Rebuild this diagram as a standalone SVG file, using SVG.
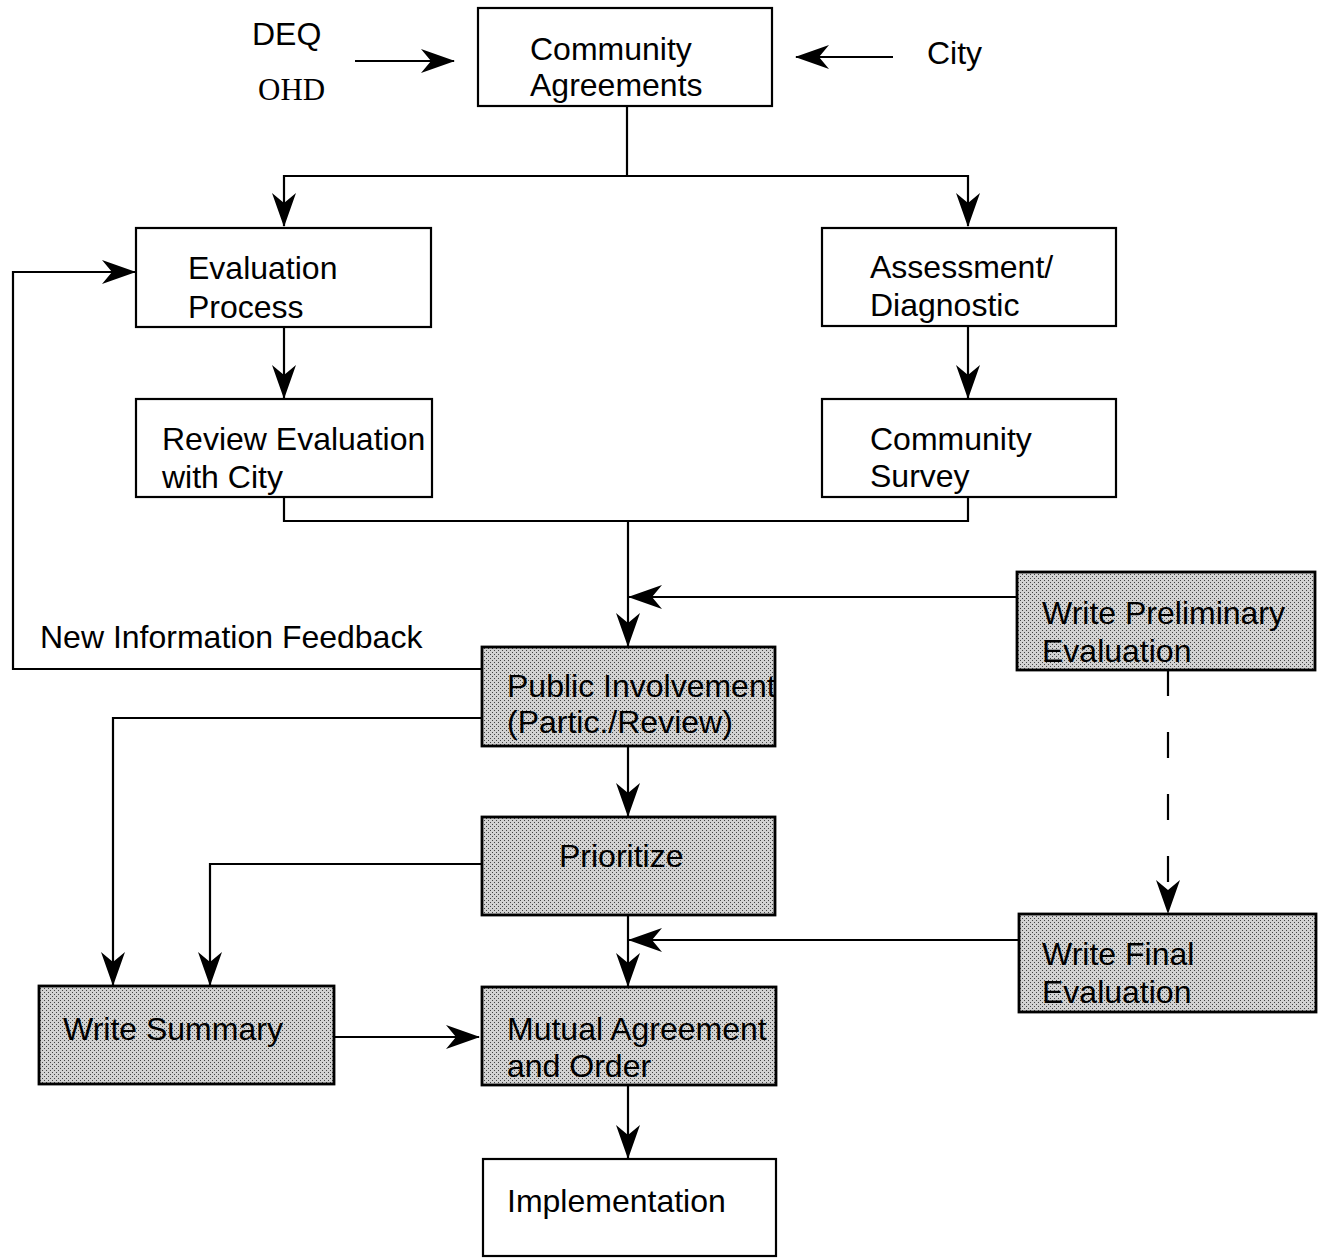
<svg xmlns="http://www.w3.org/2000/svg" width="1321" height="1258" viewBox="0 0 1321 1258">
<defs>
<marker id="ah" markerUnits="userSpaceOnUse" viewBox="0 0 34 24" refX="33" refY="12" markerWidth="34" markerHeight="24" orient="auto">
<path d="M0,0 L34,12 L0,24 L10,12 Z" fill="#000"/>
</marker>
<pattern id="dots" width="4" height="4" patternUnits="userSpaceOnUse">
<rect width="4" height="4" fill="#d2d2d2"/>
<rect x="0" y="0" width="1" height="1" fill="#444"/>
<rect x="2" y="2" width="1" height="1" fill="#444"/>
</pattern>
<clipPath id="cpPI"><rect x="482" y="647" width="293" height="99"/></clipPath>
<clipPath id="cpMA"><rect x="482" y="987" width="294" height="98"/></clipPath>
</defs>
<style>
.box{fill:#fff;stroke:#000;stroke-width:2.2}
.gbox{fill:url(#dots);stroke:#000;stroke-width:2.8}
.t{font-family:"Liberation Sans",Arial,sans-serif;font-size:32px;fill:#000}
.s{font-family:"Liberation Serif","Times New Roman",serif;font-size:31px;fill:#000}
.c{fill:none;stroke:#000;stroke-width:2.2}
.a{marker-end:url(#ah)}
</style>
<rect width="1321" height="1258" fill="#fff"/>

<g id="connectors">
<line class="c a" x1="355" y1="61" x2="454" y2="61" stroke-width="3"/>
<line class="c a" x1="893" y1="57" x2="796" y2="57" stroke-width="3"/>
<polyline class="c" points="627,106 627,176"/>
<polyline class="c a" points="627,176 284,176 284,226"/>
<polyline class="c a" points="627,176 968,176 968,226"/>
<line class="c a" x1="284" y1="327" x2="284" y2="398"/>
<line class="c a" x1="968" y1="326" x2="968" y2="398"/>
<polyline class="c" points="284,497 284,521 968,521 968,497"/>
<line class="c a" x1="628" y1="521" x2="628" y2="646"/>
<line class="c a" x1="1017" y1="597" x2="629" y2="597"/>
<polyline class="c a" points="482,669 13,669 13,272 135,272"/>
<polyline class="c a" points="482,718 113,718 113,985"/>
<line class="c a" x1="628" y1="746" x2="628" y2="816"/>
<polyline class="c a" points="482,864 210,864 210,985"/>
<line class="c a" x1="628" y1="915" x2="628" y2="986"/>
<line class="c a" x1="1019" y1="940" x2="629" y2="940"/>
<line class="c a" x1="1168" y1="670" x2="1168" y2="913" stroke-dasharray="26,36"/>
<line class="c a" x1="334" y1="1037" x2="479" y2="1037" stroke-width="3"/>
<line class="c a" x1="628" y1="1085" x2="628" y2="1158"/>
</g>

<g id="labels">
<text class="t" x="252" y="45">DEQ</text>
<text class="s" x="258" y="100">OHD</text>
<text class="t" x="927" y="64">City</text>
<text class="t" x="40" y="648">New Information Feedback</text>
</g>

<g id="n-community-agreements">
<rect class="box" x="478" y="8" width="294" height="98"/>
<text class="t" x="530" y="60">Community</text>
<text class="t" x="530" y="96">Agreements</text>
</g>

<g id="n-evaluation-process">
<rect class="box" x="136" y="228" width="295" height="99"/>
<text class="t" x="188" y="279">Evaluation</text>
<text class="t" x="188" y="318">Process</text>
</g>

<g id="n-assessment">
<rect class="box" x="822" y="228" width="294" height="98"/>
<text class="t" x="870" y="278">Assessment/</text>
<text class="t" x="870" y="316">Diagnostic</text>
</g>

<g id="n-review-evaluation">
<rect class="box" x="136" y="399" width="296" height="98"/>
<text class="t" x="162" y="450">Review Evaluation</text>
<text class="t" x="162" y="488">with City</text>
</g>

<g id="n-community-survey">
<rect class="box" x="822" y="399" width="294" height="98"/>
<text class="t" x="870" y="450">Community</text>
<text class="t" x="870" y="487">Survey</text>
</g>

<g id="n-write-preliminary">
<rect class="gbox" x="1017" y="572" width="298" height="98"/>
<text class="t" x="1042" y="624">Write Preliminary</text>
<text class="t" x="1042" y="662">Evaluation</text>
</g>

<g id="n-public-involvement">
<rect class="gbox" x="482" y="647" width="293" height="99"/>
<g clip-path="url(#cpPI)">
<text class="t" x="507" y="697">Public Involvement</text>
<text class="t" x="507" y="733">(Partic./Review)</text>
</g>
</g>

<g id="n-prioritize">
<rect class="gbox" x="482" y="817" width="293" height="98"/>
<text class="t" x="559" y="867">Prioritize</text>
</g>

<g id="n-write-final">
<rect class="gbox" x="1019" y="914" width="297" height="98"/>
<text class="t" x="1042" y="965">Write Final</text>
<text class="t" x="1042" y="1003">Evaluation</text>
</g>

<g id="n-write-summary">
<rect class="gbox" x="39" y="986" width="295" height="98"/>
<text class="t" x="63" y="1040">Write Summary</text>
</g>

<g id="n-mutual-agreement">
<rect class="gbox" x="482" y="987" width="294" height="98"/>
<g clip-path="url(#cpMA)">
<text class="t" x="507" y="1040">Mutual Agreement</text>
<text class="t" x="507" y="1077">and Order</text>
</g>
</g>

<g id="n-implementation">
<rect class="box" x="483" y="1159" width="293" height="97"/>
<text class="t" x="507" y="1212">Implementation</text>
</g>
</svg>
